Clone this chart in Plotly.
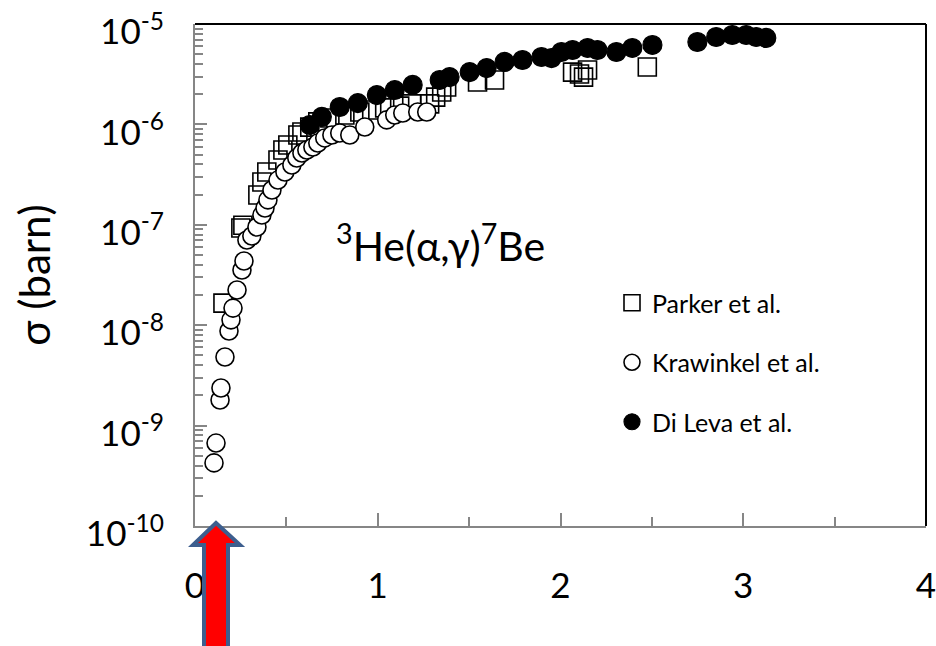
import plotly.graph_objects as go

# ---------------- data ----------------
parker_E = [0.153, 0.251, 0.262, 0.344, 0.366, 0.393, 0.454, 0.481, 0.508, 0.563, 0.585, 0.628,
            0.672, 0.738, 0.820, 0.902, 0.967, 1.038, 1.120, 1.186, 1.284, 1.317, 1.350, 1.377,
            1.546, 1.639, 2.066, 2.104, 2.126, 2.148, 2.475]
parker_sigma = [1.66e-8, 9.3e-8, 9.9e-8, 1.98e-7, 2.67e-7, 3.36e-7, 4.42e-7, 5.56e-7, 6.24e-7,
                7.84e-7, 8.4e-7, 9.4e-7, 1.06e-6, 1.16e-6, 1.24e-6, 1.33e-6, 1.39e-6, 1.46e-6,
                1.52e-6, 1.60e-6, 1.60e-6, 1.87e-6, 2.10e-6, 2.36e-6, 2.64e-6, 2.77e-6, 3.32e-6,
                3.18e-6, 2.96e-6, 3.48e-6, 3.73e-6]

krawinkel_E = [0.104, 0.115, 0.137, 0.142, 0.164, 0.186, 0.197, 0.208, 0.230, 0.257, 0.268, 0.284,
               0.311, 0.339, 0.366, 0.383, 0.399, 0.421, 0.454, 0.492, 0.530, 0.557, 0.585, 0.612,
               0.645, 0.672, 0.710, 0.749, 0.792, 0.847, 0.929, 1.049, 1.093, 1.137, 1.219, 1.268]
krawinkel_sigma = [4.25e-10, 6.7e-10, 1.80e-9, 2.37e-9, 4.82e-9, 8.75e-9, 1.13e-8, 1.48e-8, 2.24e-8,
                   3.55e-8, 4.36e-8, 7.06e-8, 7.73e-8, 9.5e-8, 1.25e-7, 1.47e-7, 1.77e-7, 2.22e-7,
                   2.79e-7, 3.36e-7, 3.94e-7, 4.63e-7, 5.19e-7, 5.56e-7, 5.96e-7, 6.53e-7, 7.33e-7,
                   7.84e-7, 8.2e-7, 7.84e-7, 9.42e-7, 1.11e-6, 1.24e-6, 1.30e-6, 1.33e-6, 1.33e-6]

dileva_E = [0.628, 0.694, 0.792, 0.891, 0.995, 1.093, 1.191, 1.339, 1.393, 1.503, 1.596, 1.694,
            1.792, 1.896, 1.951, 2.005, 2.066, 2.148, 2.202, 2.306, 2.393, 2.503, 2.749, 2.852,
            2.940, 3.016, 3.071, 3.126]
dileva_sigma = [9.86e-7, 1.19e-6, 1.49e-6, 1.63e-6, 1.96e-6, 2.2e-6, 2.47e-6, 2.77e-6, 2.96e-6,
                3.32e-6, 3.64e-6, 4.19e-6, 4.38e-6, 4.69e-6, 4.58e-6, 5.26e-6, 5.51e-6, 5.77e-6,
                5.51e-6, 5.26e-6, 5.77e-6, 6.18e-6, 6.62e-6, 7.42e-6, 7.77e-6, 7.77e-6, 7.42e-6,
                7.26e-6]

x_ticks = [0, 1, 2, 3, 4]
y_tickvals = [1e-10, 1e-9, 1e-8, 1e-7, 1e-6, 1e-5]
y_ticktext = ["10<sup>-10</sup>", "10<sup>-9</sup>", "10<sup>-8</sup>", "10<sup>-7</sup>",
              "10<sup>-6</sup>", "10<sup>-5</sup>"]
series_names = ["Parker et al.", "Krawinkel et al.", "Di Leva et al."]

# ---------------- layout geometry ----------------
W, H = 936, 646
ML, MR, MT, MB = 195, 10, 24, 120
PW, PH = W - ML - MR, H - MT - MB
FONT = "Lato"
AX_GRAY = "#868686"


def px(xp):
    return (xp - ML) / PW


def py(yp):
    return (MT + PH - yp) / PH


fig = go.Figure()
fig.add_trace(go.Scatter(
    x=parker_E, y=parker_sigma, mode="markers", name=series_names[0],
    legendrank=1, legendgroup="g1",
    marker=dict(symbol="square", size=18, color="rgba(0,0,0,0)", line=dict(color="black", width=1.6)),
))
fig.add_trace(go.Scatter(
    x=dileva_E, y=dileva_sigma, mode="markers", name=series_names[2],
    legendrank=3, legendgroup="g3",
    marker=dict(symbol="circle", size=19, color="black", line=dict(color="black", width=1.2)),
))
fig.add_trace(go.Scatter(
    x=krawinkel_E, y=krawinkel_sigma, mode="markers", name=series_names[1],
    legendrank=2, legendgroup="g2",
    marker=dict(symbol="circle", size=18, color="white", line=dict(color="black", width=1.6)),
))

# red arrow (decoration below the x-axis)
arrow_pts = [(216, 523), (193, 545), (204, 545), (204, 660), (228, 660), (228, 545), (240, 545)]
path = "M " + " L ".join(f"{px(a):.5f},{py(b):.5f}" for a, b in arrow_pts) + " Z"
shapes = [
    dict(type="path", xref="paper", yref="paper", path=path, fillcolor="#ff0000",
         line=dict(color="#3d5e8e", width=4), layer="above"),
    dict(type="line", xref="paper", yref="paper", x0=0, x1=1, y0=1, y1=1,
         line=dict(color="black", width=2)),
    dict(type="line", xref="paper", yref="paper", x0=1, x1=1, y0=0, y1=1,
         line=dict(color="black", width=2)),
]

fig.update_layout(
    width=W, height=H,
    margin=dict(l=ML, r=MR, t=MT, b=MB, autoexpand=False),
    paper_bgcolor="white", plot_bgcolor="white",
    font=dict(family=FONT, color="black"),
    showlegend=True,
    legend=dict(x=px(612), y=py(280), xanchor="left", yanchor="top",
                font=dict(size=25, family=FONT, color="black"),
                bgcolor="rgba(0,0,0,0)", tracegroupgap=24, itemwidth=30,
                traceorder="grouped"),
    shapes=shapes,
    annotations=[dict(
        text="<sup>3</sup>He(α,γ)<sup>7</sup>Be", xref="paper", yref="paper",
        x=px(334), y=py(243), xanchor="left", yanchor="middle", showarrow=False,
        font=dict(size=41, family=FONT, color="black"),
    )],
)

fig.update_xaxes(
    range=[0, 4], tickvals=x_ticks, ticktext=[str(v) for v in x_ticks],
    showgrid=False, zeroline=False, showline=True, linecolor=AX_GRAY, linewidth=2,
    ticks="inside", ticklen=13, tickwidth=1.5, tickcolor=AX_GRAY,
    minor=dict(dtick=0.5, ticks="inside", ticklen=9, tickwidth=1.5, tickcolor=AX_GRAY, showgrid=False),
    tickfont=dict(size=35, family=FONT, color="black"), ticklabelstandoff=28,
    ticklabeloverflow="allow",
)
fig.update_yaxes(
    type="log", range=[-10, -5], tickvals=y_tickvals, ticktext=y_ticktext,
    showgrid=False, zeroline=False, showline=True, linecolor=AX_GRAY, linewidth=2,
    ticks="inside", ticklen=12, tickwidth=1.5, tickcolor=AX_GRAY,
    minor=dict(dtick="D1", ticks="inside", ticklen=8, tickwidth=1.5, tickcolor=AX_GRAY, showgrid=False),
    tickfont=dict(size=35, family=FONT, color="black"), ticklabelstandoff=22,
    ticklabelshift=8, ticklabeloverflow="allow",
    title=dict(text="σ (barn)", font=dict(size=42, family=FONT, color="black"), standoff=22),
)

fig.write_html("out.html")
